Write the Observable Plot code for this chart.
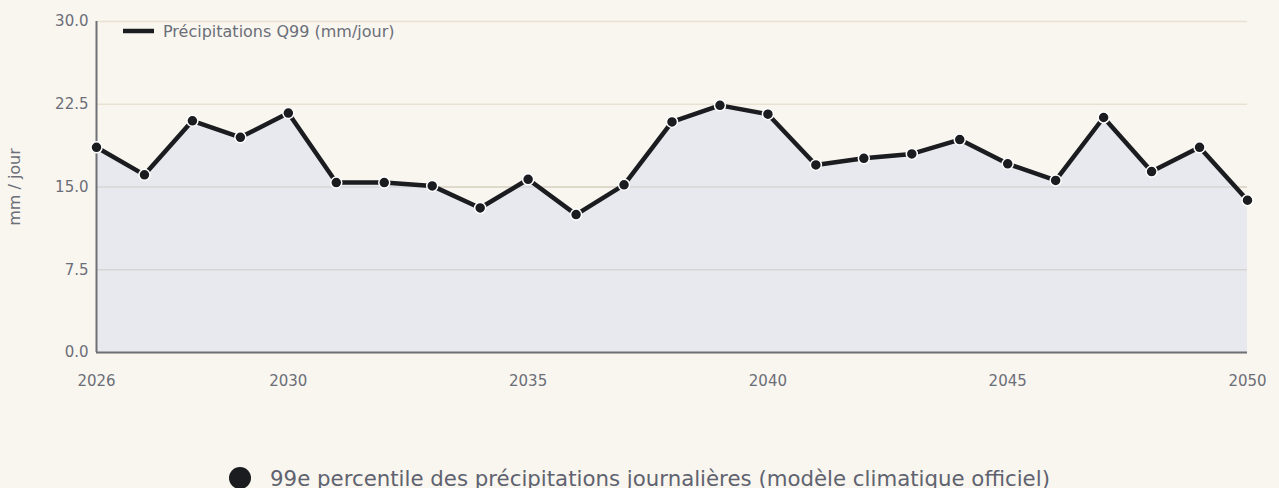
<!DOCTYPE html>
<html>
<head>
<meta charset="utf-8">
<script src="https://cdn.jsdelivr.net/npm/d3@7"></script>
<script src="https://cdn.jsdelivr.net/npm/@observablehq/plot@0.6"></script>
<style>
  html, body { margin: 0; padding: 0; background: #f9f6ef; }
  body { width: 1279px; height: 488px; overflow: hidden; font-family: "DejaVu Sans", sans-serif; }
  #legend { display: flex; justify-content: center; align-items: center; gap: 19px; height: 22px; margin-top: 47px; color: #5f6370; font-size: 21.3px; white-space: nowrap; }
  #legend .dot { width: 22px; height: 22px; border-radius: 50%; background: #1b1c20; flex: none; }
</style>
</head>
<body>
<div id="chart"></div>
<div id="legend"><span class="dot"></span><span>99e percentile des précipitations journalières (modèle climatique officiel)</span></div>
<script>
const years = [2026,2027,2028,2029,2030,2031,2032,2033,2034,2035,2036,2037,2038,2039,2040,2041,2042,2043,2044,2045,2046,2047,2048,2049,2050];
const q99 = [18.6,16.1,21.0,19.5,21.7,15.4,15.4,15.1,13.1,15.7,12.5,15.2,20.9,22.4,21.6,17.0,17.6,18.0,19.3,17.1,15.6,21.3,16.4,18.6,13.8];
const xTicks = [2026,2030,2035,2040,2045,2050];
const yTicks = [0,7.5,15,22.5,30];
const seriesLabel = "Précipitations Q99 (mm/jour)";
const yLabel = "mm / jour";

const data = years.map((y, i) => ({year: y, value: q99[i]}));

const chart = Plot.plot({
  width: 1279,
  height: 420,
  marginLeft: 96,
  marginRight: 32,
  marginTop: 21,
  marginBottom: 68,
  style: {background: "#f9f6ef", fontFamily: "DejaVu Sans, sans-serif", fontSize: "15px", color: "#6b6e78", overflow: "visible"},
  x: {domain: [2026, 2050], ticks: xTicks, tickFormat: d => String(d), tickSize: 0, tickPadding: 22, label: null},
  y: {domain: [0, 30], ticks: yTicks, tickFormat: d3.format(".1f"), tickSize: 0, tickPadding: 8, label: null},
  marks: [
    Plot.gridY(yTicks, {stroke: "#e9e2d2", strokeOpacity: 1, strokeWidth: 1.5}),
    Plot.areaY(data, {x: "year", y: "value", fill: "#e8e9ee"}),
    Plot.gridY([7.5, 15], {stroke: "#b9b3a6", strokeOpacity: 0.35, strokeWidth: 1.5}),
    Plot.axisX({ticks: xTicks, tickFormat: d => String(d), tickSize: 0, tickPadding: 23, fontSize: 15, fill: "#6b6e78"}),
    Plot.axisY({ticks: yTicks, tickFormat: d3.format(".1f"), tickSize: 0, tickPadding: 8, fontSize: 15, fill: "#6b6e78"}),
    Plot.ruleX([2026], {stroke: "#6e7077", strokeWidth: 2}),
    Plot.ruleY([0], {stroke: "#6e7077", strokeWidth: 2}),
    Plot.line(data, {x: "year", y: "value", stroke: "#1b1c20", strokeWidth: 4.5, strokeLinejoin: "miter"}),
    Plot.dot(data, {x: "year", y: "value", r: 5.5, fill: "#1b1c20", stroke: "#ffffff", strokeWidth: 1.5}),
    Plot.text([yLabel], {frameAnchor: "left", dx: -82, rotate: -90, textAnchor: "middle", text: d => d, fontSize: 16, fill: "#6b6e78"})
  ]
});

// top-left legend inside plot area
const svg = d3.select(chart);
const g = svg.append("g");
g.append("line").attr("x1", 123).attr("x2", 154).attr("y1", 31).attr("y2", 31)
  .attr("stroke", "#1b1c20").attr("stroke-width", 4.5);
g.append("text").attr("x", 163).attr("y", 31).attr("dy", "0.35em")
  .attr("text-anchor", "start")
  .attr("font-size", 16).attr("fill", "#6b6e78").attr("font-family", "DejaVu Sans, sans-serif")
  .text(seriesLabel);

document.getElementById("chart").appendChild(chart);
</script>
</body>
</html>
